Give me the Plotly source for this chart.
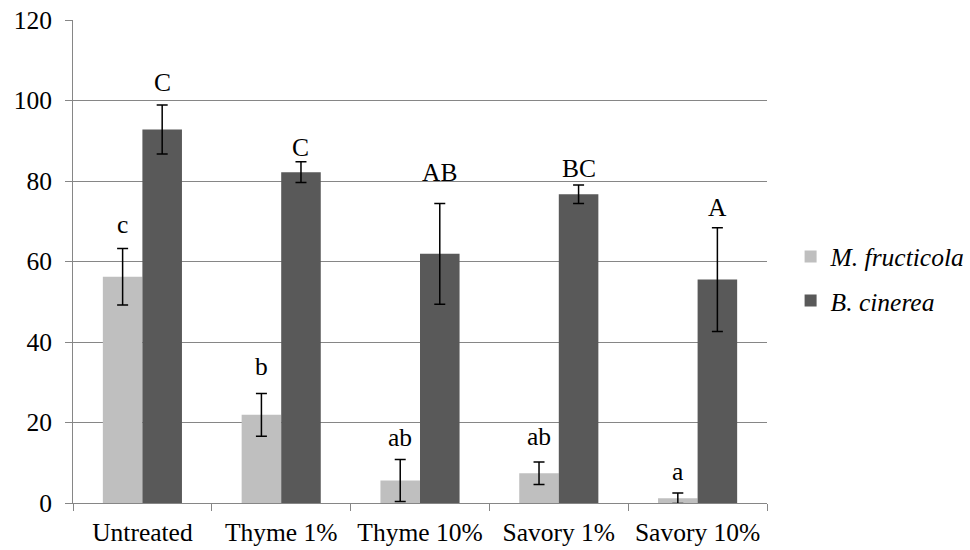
import plotly.graph_objects as go

categories = ["Untreated", "Thyme 1%", "Thyme 10%", "Savory 1%", "Savory 10%"]
m_values = [56.2, 21.9, 5.6, 7.4, 1.2]
m_errors = [7.0, 5.3, 5.2, 2.8, 1.3]
m_letters = ["c", "b", "ab", "ab", "a"]
b_values = [92.8, 82.2, 61.9, 76.7, 55.5]
b_errors = [6.1, 2.6, 12.5, 2.3, 12.9]
b_letters = ["C", "C", "AB", "BC", "A"]

FONT = "Liberation Serif"
FS = 25.5

fig = go.Figure()
fig.add_trace(go.Bar(
    x=categories, y=m_values, name="<i>M. fructicola</i>", legendgroup="m",
    marker=dict(color="#BFBFBF", line=dict(width=0)),
    error_y=dict(type="data", array=m_errors, color="black", thickness=1.5, width=5.5),
    offsetgroup="m",
))
fig.add_trace(go.Bar(
    x=categories, y=b_values, name="<i>B. cinerea</i>", legendgroup="b",
    marker=dict(color="#595959", line=dict(width=0)),
    error_y=dict(type="data", array=b_errors, color="black", thickness=1.5, width=5.5),
    offsetgroup="b",
))

# pixel offsets of letter labels above the error bar tops
m_shift = [24.5, 27.5, 22.5, 25, 21.5]
b_shift = [22.5, 14.5, 31.5, 17, 20]
annotations = []
for i, cat in enumerate(categories):
    annotations.append(dict(x=cat, y=m_values[i] + m_errors[i], text=m_letters[i],
                            xshift=-19.75, yshift=m_shift[i], showarrow=False,
                            yanchor="middle", font=dict(family=FONT, size=FS, color="black")))
    annotations.append(dict(x=cat, y=b_values[i] + b_errors[i], text=b_letters[i],
                            xshift=19.75, yshift=b_shift[i], showarrow=False,
                            yanchor="middle", font=dict(family=FONT, size=FS, color="black")))

fig.update_layout(
    width=970, height=550,
    margin=dict(l=73, r=203, t=20, b=47, autoexpand=False),
    paper_bgcolor="white", plot_bgcolor="white",
    barmode="group", bargap=0.43, bargroupgap=0,
    font=dict(family=FONT, size=FS, color="black"),
    showlegend=True,
    legend=dict(x=1.034, xanchor="left", y=0.464, yanchor="middle",
                font=dict(family=FONT, size=FS, color="black"),
                tracegroupgap=8, bgcolor="rgba(0,0,0,0)"),
    annotations=annotations,
)
fig.update_xaxes(
    type="category", showgrid=False, showline=True, linecolor="#868686", linewidth=1,
    ticks="outside", tickson="boundaries", ticklen=7, tickcolor="#868686",
    tickfont=dict(family=FONT, size=FS, color="black"), zeroline=False,
    tickangle=0, automargin=False, ticklabelstandoff=6,
)
fig.update_yaxes(
    range=[0, 120], dtick=20, showgrid=True, gridcolor="#868686", gridwidth=1,
    showline=True, linecolor="#868686", linewidth=1,
    ticks="outside", ticklen=7, tickcolor="#868686",
    tickfont=dict(family=FONT, size=FS, color="black"), zeroline=False,
    ticklabelstandoff=8, automargin=False,
)

fig.write_html("out.html")
